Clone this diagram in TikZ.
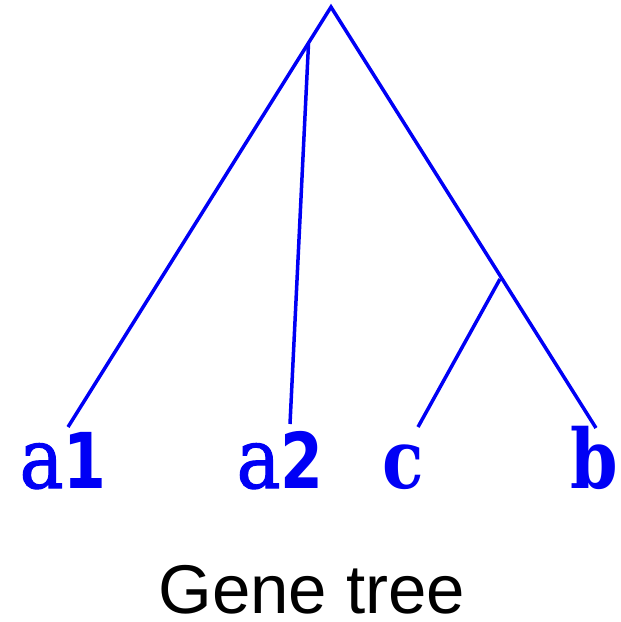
\documentclass[tikz,border=0pt]{standalone}
\usepackage{fontspec}
\setmainfont{Liberation Sans}
\newfontfamily\letterfont{DejaVu Serif}[FakeStretch=0.88, FakeBold=1.2]
\newfontfamily\boldletterfont{DejaVu Serif}[FakeStretch=0.83]
\newfontfamily\digitfont{DejaVu Sans}[FakeStretch=0.8]
\newcommand{\la}{{\letterfont\fontsize{84}{84}\selectfont a}}
\newcommand{\ldig}[1]{{\digitfont\bfseries\fontsize{77}{77}\selectfont #1}}
\newcommand{\lbold}[1]{{\boldletterfont\bfseries\fontsize{82}{82}\selectfont #1}}
\definecolor{treeblue}{RGB}{0,0,245}
\tikzset{
  branch/.style={draw=treeblue, line width=3.5pt},
  leaf/.style={text=treeblue, anchor=base, inner sep=0pt},
}
\begin{document}
\begin{tikzpicture}[x=1pt,y=-1pt]
\useasboundingbox (0,0) rectangle (621,622);
\coordinate (root) at (331,7);
\coordinate (ma) at (308.5,44);
\coordinate (mc) at (500,279);
\coordinate (ea1) at (68,427);
\coordinate (ea2) at (290,424);
\coordinate (ec) at (418,427);
\coordinate (eb) at (596,428);
\draw[branch, line join=miter] (ea1) -- (root) -- (eb);
\draw[branch] (ma) -- (ea2);
\draw[branch] (mc) -- (ec);
\node[leaf] (a1) at (63,488) {\la\ldig{1}};
\node[leaf] (a2) at (280,488) {\la\ldig{2}};
\node[leaf] (c) at (403,488) {\lbold{c}};
\node[leaf] (b) at (594,488) {\lbold{b}};
\node[anchor=base, inner sep=0pt, text depth=0pt, font=\fontsize{69}{69}\selectfont] (title) at (312,613) {Gene tree};
\end{tikzpicture}
\end{document}
